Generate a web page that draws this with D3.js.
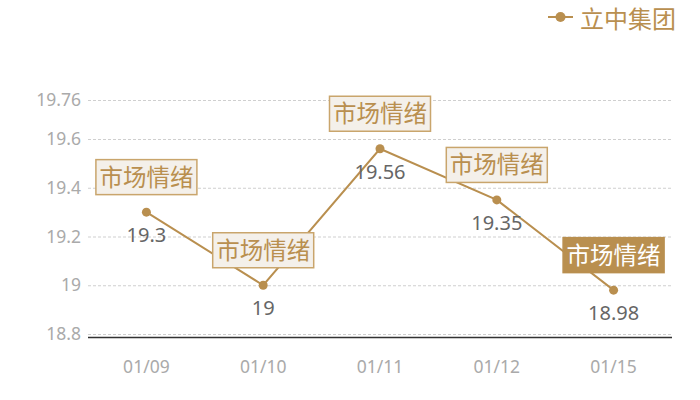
<!DOCTYPE html>
<html><head><meta charset="utf-8">
<script src="https://cdn.jsdelivr.net/npm/d3@7/dist/d3.min.js"></script>
<style>body{margin:0;background:#fff}svg{display:block}</style>
</head><body>
<svg id="c" width="700" height="400"></svg>
<script>
const categories = ["01/09", "01/10", "01/11", "01/12", "01/15"];
const values = [19.3, 19.0, 19.56, 19.35, 18.98];
const valueLabels = ["19.3", "19", "19.56", "19.35", "18.98"];
const yTicks = [18.8, 19, 19.2, 19.4, 19.6, 19.76];
const seriesName = "立中集团";
const noteText = "市场情绪";
const highlighted = [false, false, false, false, true];

const gold = "#b98f4f";
const font = "'Noto Sans','Noto Sans CJK SC',sans-serif";
const svg = d3.select("#c");

const x = d3.scaleBand().domain(categories).range([88, 672]);
const y = d3.scaleLinear().domain([18.8, 19.76]).range([334, 100]);

// grid
svg.append("g").selectAll("line").data(yTicks).join("line")
  .attr("x1", 88).attr("x2", 672)
  .attr("y1", d => y(d) + 0.5).attr("y2", d => y(d) + 0.5)
  .attr("stroke", "#cfcfcf").attr("stroke-dasharray", "3,2");

// y axis labels
const yAxis = d3.axisLeft(y).tickValues(yTicks).tickSize(0).tickPadding(7)
  .tickFormat(d => String(+d.toFixed(2)));
svg.append("g").attr("transform", "translate(88,0)").call(yAxis)
  .call(g => g.select(".domain").remove())
  .call(g => g.selectAll("text").attr("fill", "#aaaaaa").attr("font-size", 17.5).attr("font-family", font));

// x axis
const xAxis = d3.axisBottom(x).tickSize(0).tickPadding(24);
svg.append("g").attr("transform", "translate(0,337)").call(xAxis)
  .call(g => g.select(".domain").attr("stroke", "#333").attr("stroke-width", 1.3).attr("d", "M88,0.5H672"))
  .call(g => g.selectAll("text").attr("fill", "#aaaaaa").attr("font-size", 17.5).attr("font-family", font));

const cx = d => x(d) + x.bandwidth() / 2;
const data = categories.map((c, i) => ({c, v: values[i], l: valueLabels[i], h: highlighted[i]}));

// line
svg.append("path").datum(data)
  .attr("d", d3.line().x(d => cx(d.c)).y(d => y(d.v)))
  .attr("fill", "none").attr("stroke", gold).attr("stroke-width", 2);

// points
svg.append("g").selectAll("circle").data(data).join("circle")
  .attr("cx", d => cx(d.c)).attr("cy", d => y(d.v)).attr("r", 4.5).attr("fill", gold);

// value labels
svg.append("g").selectAll("text").data(data).join("text")
  .attr("x", d => cx(d.c)).attr("y", d => y(d.v) + 30)
  .attr("text-anchor", "middle").attr("font-size", 20).attr("font-family", font)
  .attr("fill", "#666").text(d => d.l);

// annotation boxes
const notes = svg.append("g").selectAll("g").data(data).join("g")
  .attr("transform", d => `translate(${cx(d.c)},${y(d.v) - 17})`);
notes.append("rect")
  .attr("x", -50.5).attr("y", -35.5).attr("width", 101).attr("height", 35)
  .attr("fill", d => d.h ? gold : "#f4f0ea")
  .attr("stroke", d => d.h ? gold : "#c9a56c").attr("stroke-width", 1.5);
notes.append("text")
  .attr("y", -9.5).attr("text-anchor", "middle")
  .attr("font-size", 23.5).attr("font-family", "'Noto Sans CJK SC',sans-serif")
  .attr("fill", d => d.h ? "#fff" : gold).text(noteText);

// legend
const lg = svg.append("g").attr("transform", "translate(548,17)");
lg.append("line").attr("x1", 0).attr("x2", 25).attr("stroke", gold).attr("stroke-width", 2);
lg.append("circle").attr("cx", 12.5).attr("r", 5).attr("fill", gold);
lg.append("text").attr("x", 32).attr("y", 10.5).attr("font-size", 24)
  .attr("font-family", "'Noto Sans CJK SC',sans-serif").attr("fill", gold).text(seriesName);
</script>
</body></html>
